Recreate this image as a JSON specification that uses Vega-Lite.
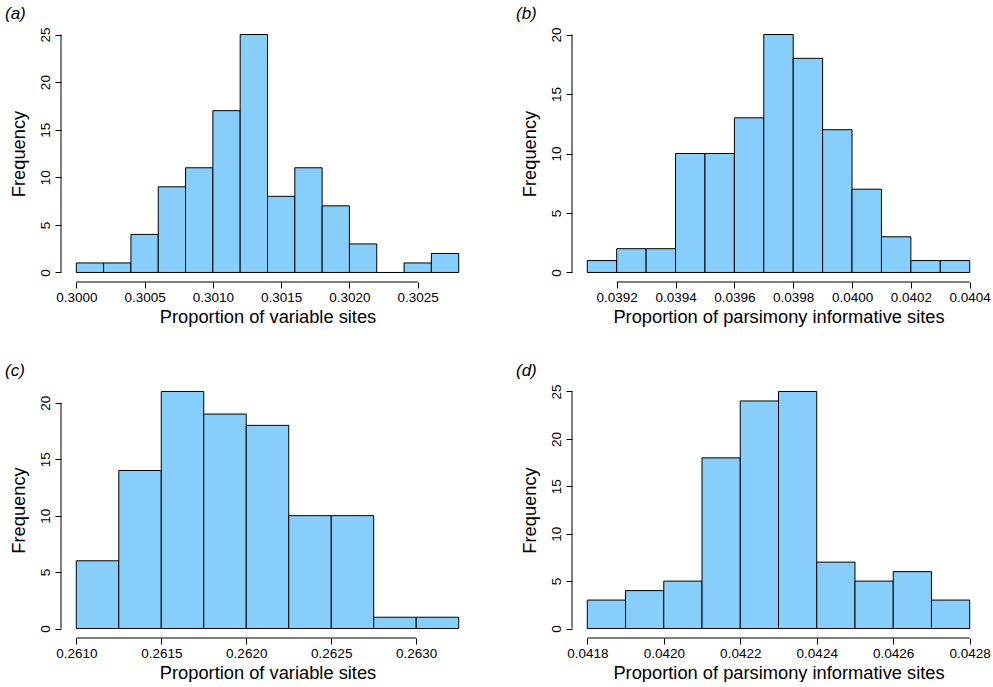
{
  "$schema": "https://vega.github.io/schema/vega-lite/v6.json",
  "background": "white",
  "padding": {"left": 4, "top": 5, "right": 0, "bottom": 0},
  "columns": 2,
  "bounds": "flush",
  "spacing": {"column": 98, "row": 100},
  "config": {
    "font": "Liberation Sans",
    "view": {"stroke": null},
    "axis": {
      "domain": false,
      "grid": false,
      "tickColor": "black",
      "tickSize": 6,
      "tickWidth": 1,
      "labelFontSize": 13.5,
      "labelColor": "black",
      "labelPadding": 2,
      "labelOverlap": false,
      "labelFlush": false,
      "labelBound": false,
      "titleFontSize": 18.3,
      "titleFontWeight": "normal",
      "titleColor": "black"
    },
    "axisX": {"titlePadding": 5},
    "axisY": {"labelAngle": 270, "labelAlign": "center", "labelBaseline": "bottom", "labelPadding": 3, "titlePadding": 10},
    "title": {"fontSize": 17, "fontStyle": "italic", "fontWeight": "normal", "anchor": "start", "frame": "bounds", "offset": 2, "dx": -4, "color": "black"}
  },
  "concat": [
    {
      "title": "(a)",
      "width": 413,
      "height": 257,
      "data": {"values": [
        {"start": 0.3000, "end": 0.3002, "count": 1},
        {"start": 0.3002, "end": 0.3004, "count": 1},
        {"start": 0.3004, "end": 0.3006, "count": 4},
        {"start": 0.3006, "end": 0.3008, "count": 9},
        {"start": 0.3008, "end": 0.3010, "count": 11},
        {"start": 0.3010, "end": 0.3012, "count": 17},
        {"start": 0.3012, "end": 0.3014, "count": 25},
        {"start": 0.3014, "end": 0.3016, "count": 8},
        {"start": 0.3016, "end": 0.3018, "count": 11},
        {"start": 0.3018, "end": 0.3020, "count": 7},
        {"start": 0.3020, "end": 0.3022, "count": 3},
        {"start": 0.3022, "end": 0.3024, "count": 0},
        {"start": 0.3024, "end": 0.3026, "count": 1},
        {"start": 0.3026, "end": 0.3028, "count": 2}
      ]},
      "layer": [
        {
          "mark": {"type": "rect", "fill": "#87CEFA", "stroke": "black", "strokeWidth": 1},
          "encoding": {
            "x": {"field": "start", "type": "quantitative", "scale": {"domain": [0.299888, 0.302912], "nice": false, "zero": false},
                  "axis": {"values": [0.3, 0.3005, 0.301, 0.3015, 0.302, 0.3025], "format": ".4f", "title": "Proportion of variable sites"}},
            "x2": {"field": "end"},
            "y": {"field": "count", "type": "quantitative", "scale": {"domain": [-1, 26], "nice": false, "zero": false},
                  "axis": {"values": [0, 5, 10, 15, 20, 25], "title": "Frequency"}},
            "y2": {"datum": 0}
          }
        },
        {
          "data": {"values": [{}]},
          "mark": {"type": "rule", "color": "black", "strokeWidth": 1},
          "encoding": {"x": {"datum": 0.3}, "x2": {"datum": 0.3025}, "y": {"datum": -1}}
        },
        {
          "data": {"values": [{}]},
          "mark": {"type": "rule", "color": "black", "strokeWidth": 1},
          "encoding": {"y": {"datum": 0}, "y2": {"datum": 25}, "x": {"datum": 0.299888}}
        }
      ]
    },
    {
      "title": "(b)",
      "width": 413,
      "height": 257,
      "data": {"values": [
        {"start": 0.0391, "end": 0.0392, "count": 1},
        {"start": 0.0392, "end": 0.0393, "count": 2},
        {"start": 0.0393, "end": 0.0394, "count": 2},
        {"start": 0.0394, "end": 0.0395, "count": 10},
        {"start": 0.0395, "end": 0.0396, "count": 10},
        {"start": 0.0396, "end": 0.0397, "count": 13},
        {"start": 0.0397, "end": 0.0398, "count": 20},
        {"start": 0.0398, "end": 0.0399, "count": 18},
        {"start": 0.0399, "end": 0.0400, "count": 12},
        {"start": 0.0400, "end": 0.0401, "count": 7},
        {"start": 0.0401, "end": 0.0402, "count": 3},
        {"start": 0.0402, "end": 0.0403, "count": 1},
        {"start": 0.0403, "end": 0.0404, "count": 1}
      ]},
      "layer": [
        {
          "mark": {"type": "rect", "fill": "#87CEFA", "stroke": "black", "strokeWidth": 1},
          "encoding": {
            "x": {"field": "start", "type": "quantitative", "scale": {"domain": [0.039048, 0.040452], "nice": false, "zero": false},
                  "axis": {"values": [0.0392, 0.0394, 0.0396, 0.0398, 0.04, 0.0402, 0.0404], "format": ".4f", "title": "Proportion of parsimony informative sites"}},
            "x2": {"field": "end"},
            "y": {"field": "count", "type": "quantitative", "scale": {"domain": [-0.8, 20.8], "nice": false, "zero": false},
                  "axis": {"values": [0, 5, 10, 15, 20], "title": "Frequency"}},
            "y2": {"datum": 0}
          }
        },
        {
          "data": {"values": [{}]},
          "mark": {"type": "rule", "color": "black", "strokeWidth": 1},
          "encoding": {"x": {"datum": 0.0392}, "x2": {"datum": 0.0404}, "y": {"datum": -0.8}}
        },
        {
          "data": {"values": [{}]},
          "mark": {"type": "rule", "color": "black", "strokeWidth": 1},
          "encoding": {"y": {"datum": 0}, "y2": {"datum": 20}, "x": {"datum": 0.039048}}
        }
      ]
    },
    {
      "title": "(c)",
      "width": 413,
      "height": 256,
      "data": {"values": [
        {"start": 0.26100, "end": 0.26125, "count": 6},
        {"start": 0.26125, "end": 0.26150, "count": 14},
        {"start": 0.26150, "end": 0.26175, "count": 21},
        {"start": 0.26175, "end": 0.26200, "count": 19},
        {"start": 0.26200, "end": 0.26225, "count": 18},
        {"start": 0.26225, "end": 0.26250, "count": 10},
        {"start": 0.26250, "end": 0.26275, "count": 10},
        {"start": 0.26275, "end": 0.26300, "count": 1},
        {"start": 0.26300, "end": 0.26325, "count": 1}
      ]},
      "layer": [
        {
          "mark": {"type": "rect", "fill": "#87CEFA", "stroke": "black", "strokeWidth": 1},
          "encoding": {
            "x": {"field": "start", "type": "quantitative", "scale": {"domain": [0.26091, 0.26334], "nice": false, "zero": false},
                  "axis": {"values": [0.261, 0.2615, 0.262, 0.2625, 0.263], "format": ".4f", "title": "Proportion of variable sites"}},
            "x2": {"field": "end"},
            "y": {"field": "count", "type": "quantitative", "scale": {"domain": [-0.84, 21.84], "nice": false, "zero": false},
                  "axis": {"values": [0, 5, 10, 15, 20], "title": "Frequency"}},
            "y2": {"datum": 0}
          }
        },
        {
          "data": {"values": [{}]},
          "mark": {"type": "rule", "color": "black", "strokeWidth": 1},
          "encoding": {"x": {"datum": 0.261}, "x2": {"datum": 0.263}, "y": {"datum": -0.84}}
        },
        {
          "data": {"values": [{}]},
          "mark": {"type": "rule", "color": "black", "strokeWidth": 1},
          "encoding": {"y": {"datum": 0}, "y2": {"datum": 20}, "x": {"datum": 0.26091}}
        }
      ]
    },
    {
      "title": "(d)",
      "width": 413,
      "height": 256,
      "data": {"values": [
        {"start": 0.0418, "end": 0.0419, "count": 3},
        {"start": 0.0419, "end": 0.0420, "count": 4},
        {"start": 0.0420, "end": 0.0421, "count": 5},
        {"start": 0.0421, "end": 0.0422, "count": 18},
        {"start": 0.0422, "end": 0.0423, "count": 24},
        {"start": 0.0423, "end": 0.0424, "count": 25},
        {"start": 0.0424, "end": 0.0425, "count": 7},
        {"start": 0.0425, "end": 0.0426, "count": 5},
        {"start": 0.0426, "end": 0.0427, "count": 6},
        {"start": 0.0427, "end": 0.0428, "count": 3}
      ]},
      "layer": [
        {
          "mark": {"type": "rect", "fill": "#87CEFA", "stroke": "black", "strokeWidth": 1},
          "encoding": {
            "x": {"field": "start", "type": "quantitative", "scale": {"domain": [0.04176, 0.04284], "nice": false, "zero": false},
                  "axis": {"values": [0.0418, 0.042, 0.0422, 0.0424, 0.0426, 0.0428], "format": ".4f", "title": "Proportion of parsimony informative sites"}},
            "x2": {"field": "end"},
            "y": {"field": "count", "type": "quantitative", "scale": {"domain": [-1, 26], "nice": false, "zero": false},
                  "axis": {"values": [0, 5, 10, 15, 20, 25], "title": "Frequency"}},
            "y2": {"datum": 0}
          }
        },
        {
          "data": {"values": [{}]},
          "mark": {"type": "rule", "color": "black", "strokeWidth": 1},
          "encoding": {"x": {"datum": 0.0418}, "x2": {"datum": 0.0428}, "y": {"datum": -1}}
        },
        {
          "data": {"values": [{}]},
          "mark": {"type": "rule", "color": "black", "strokeWidth": 1},
          "encoding": {"y": {"datum": 0}, "y2": {"datum": 25}, "x": {"datum": 0.04176}}
        }
      ]
    }
  ]
}
